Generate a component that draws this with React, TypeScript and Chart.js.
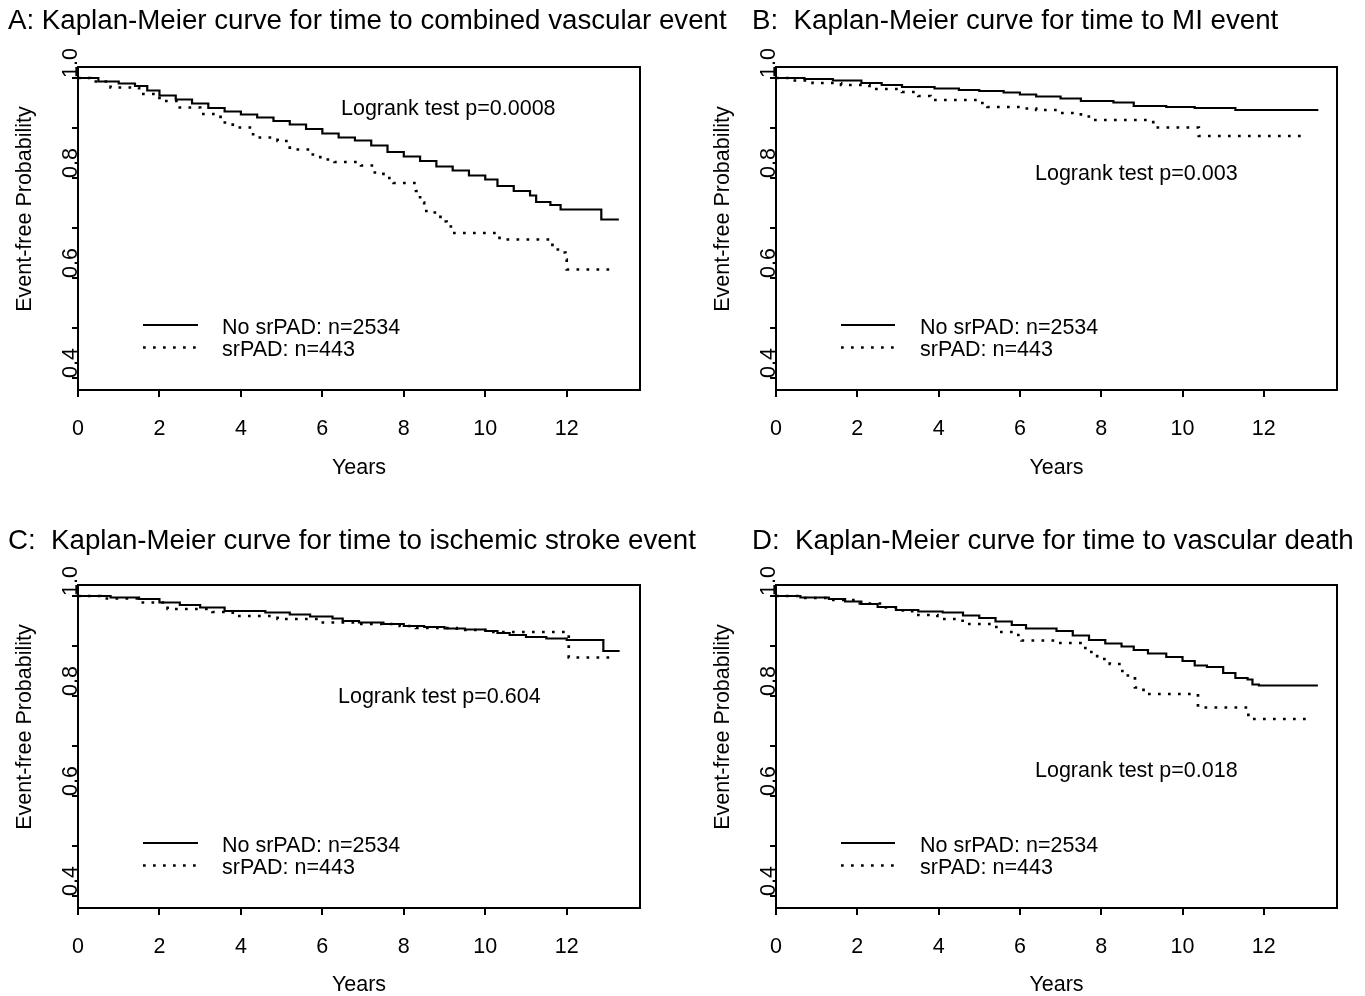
import React, { useEffect, useRef } from 'react';
import { Chart, registerables } from 'chart.js';

Chart.register(...registerables);

const FONT = "'Liberation Sans', Arial, Helvetica, sans-serif";

// ---------- Data ----------
// Panel A: combined vascular event
const aNoTime = [0, 0.5, 1.0, 1.4, 1.7, 2.0, 2.4, 2.8, 3.2, 3.6, 4.0, 4.4, 4.8, 5.2, 5.6, 6.0, 6.4, 6.8, 7.2, 7.6, 8.0, 8.4, 8.8, 9.2, 9.6, 10.0, 10.3, 10.7, 11.1, 11.25, 11.6, 11.85, 12.85, 13.28];
const aNoSurv = [1, 0.993, 0.989, 0.984, 0.975, 0.965, 0.957, 0.949, 0.94, 0.933, 0.927, 0.921, 0.914, 0.907, 0.898, 0.889, 0.881, 0.875, 0.865, 0.852, 0.843, 0.834, 0.823, 0.815, 0.805, 0.797, 0.784, 0.774, 0.765, 0.752, 0.746, 0.737, 0.717, 0.717];
const aPadTime = [0, 0.3, 0.8, 1.5, 2.0, 2.5, 3.0, 3.5, 3.8, 4.3, 4.9, 5.2, 5.7, 5.95, 6.3, 6.95, 7.25, 7.5, 7.75, 8.3, 8.4, 8.5, 8.7, 8.9, 9.05, 9.2, 10.35, 11.65, 11.85, 11.97, 12.0, 13.13];
const aPadSurv = [1, 0.993, 0.981, 0.968, 0.954, 0.941, 0.928, 0.911, 0.901, 0.881, 0.874, 0.857, 0.847, 0.837, 0.832, 0.825, 0.811, 0.8, 0.79, 0.774, 0.751, 0.734, 0.731, 0.713, 0.703, 0.69, 0.677, 0.657, 0.651, 0.637, 0.617, 0.617];

// Panel B: MI event
const bNoTime = [0, 0.7, 1.4, 2.1, 2.6, 3.1, 3.9, 4.5, 5.0, 5.6, 6.0, 6.4, 7.0, 7.5, 8.3, 8.8, 9.6, 10.3, 11.3, 13.34];
const bNoSurv = [1, 0.998, 0.995, 0.99, 0.986, 0.982, 0.979, 0.976, 0.974, 0.971, 0.967, 0.963, 0.959, 0.954, 0.951, 0.944, 0.942, 0.94, 0.936, 0.936];
const bPadTime = [0, 0.4, 0.9, 1.6, 2.3, 3.1, 3.5, 3.8, 5.0, 5.2, 6.0, 6.4, 7.0, 7.5, 7.75, 9.28, 10.4, 13.0];
const bPadSurv = [1, 0.995, 0.99, 0.986, 0.978, 0.972, 0.964, 0.956, 0.95, 0.942, 0.939, 0.936, 0.93, 0.923, 0.916, 0.901, 0.884, 0.884];

// Panel C: ischemic stroke event
const cNoTime = [0, 0.8, 1.5, 2.0, 2.5, 3.0, 3.6, 4.6, 5.2, 5.7, 6.25, 6.5, 6.9, 7.5, 8.0, 8.5, 9.0, 9.5, 10.0, 10.3, 10.6, 11.0, 11.5, 12.0, 12.9, 13.3];
const cNoSurv = [1, 0.997, 0.994, 0.987, 0.982, 0.977, 0.97, 0.967, 0.963, 0.959, 0.955, 0.95, 0.947, 0.944, 0.94, 0.938, 0.935, 0.933, 0.93, 0.926, 0.922, 0.918, 0.915, 0.912, 0.89, 0.89];
const cPadTime = [0, 0.55, 1.5, 2.2, 3.3, 3.8, 4.9, 5.9, 6.9, 7.9, 8.3, 9.3, 10.2, 12.05, 13.15];
const cPadSurv = [1, 0.995, 0.987, 0.974, 0.968, 0.96, 0.954, 0.947, 0.944, 0.94, 0.936, 0.932, 0.928, 0.877, 0.877];

// Panel D: vascular death
const dNoTime = [0, 0.6, 1.3, 1.7, 2.1, 2.5, 2.95, 3.5, 4.1, 4.6, 5.0, 5.4, 5.8, 6.15, 6.9, 7.3, 7.7, 8.1, 8.5, 8.8, 9.15, 9.6, 10.0, 10.3, 10.6, 11.0, 11.3, 11.6, 11.72, 11.88, 13.33];
const dNoSurv = [1, 0.997, 0.994, 0.989, 0.984, 0.978, 0.972, 0.969, 0.967, 0.961, 0.956, 0.949, 0.942, 0.935, 0.93, 0.921, 0.912, 0.905, 0.899, 0.892, 0.885, 0.878, 0.87, 0.861, 0.858, 0.846, 0.836, 0.833, 0.823, 0.821, 0.821];
const dPadTime = [0, 0.6, 1.3, 2.0, 2.6, 3.0, 3.35, 3.97, 4.59, 5.42, 5.83, 6.04, 6.87, 7.49, 7.69, 7.9, 8.21, 8.52, 8.83, 9.04, 10.38, 11.62, 13.12];
const dPadSurv = [1, 0.996, 0.992, 0.985, 0.977, 0.971, 0.962, 0.954, 0.944, 0.928, 0.922, 0.911, 0.906, 0.896, 0.888, 0.874, 0.864, 0.841, 0.817, 0.804, 0.777, 0.754, 0.754];

// Axis ticks and labels
const xTicks = [0, 2, 4, 6, 8, 10, 12];
const yTicks = [0.4, 0.5, 0.6, 0.7, 0.8, 0.9, 1.0];
const yTickLabels = ['0.4', '', '0.6', '', '0.8', '', '1.0'];
const seriesLabels = ['No srPAD: n=2534', 'srPAD: n=443'];
const titles = [
  'A: Kaplan-Meier curve for time to combined vascular event',
  'B:  Kaplan-Meier curve for time to MI event',
  'C:  Kaplan-Meier curve for time to ischemic stroke event',
  'D:  Kaplan-Meier curve for time to vascular death',
];
const logrankTexts = ['Logrank test p=0.0008', 'Logrank test p=0.003', 'Logrank test p=0.604', 'Logrank test p=0.018'];

// ---------- Layout ----------
type Layout = {
  left: number; top: number; w: number; h: number;
  areaLeft: number; areaRight: number; areaTop: number; areaBottom: number;
  titleX: number; titleY: number; yTitleX: number; yTitleY: number;
  logX: number; logY: number;
  legLineX1: number; legLineX2: number; legTextX: number; legY: number[];
  xTitlePad: number;
};

const layouts: Layout[] = [
  { left: 0, top: 0, w: 750, h: 500, areaLeft: 78, areaRight: 640, areaTop: 67, areaBottom: 390,
    titleX: 8, titleY: 21, yTitleX: 25, yTitleY: 209, logX: 341, logY: 109,
    legLineX1: 143, legLineX2: 198, legTextX: 222, legY: [328, 350.5], xTitlePad: 21.25 },
  { left: 683, top: 0, w: 682, h: 500, areaLeft: 93, areaRight: 654, areaTop: 67, areaBottom: 390,
    titleX: 69, titleY: 21, yTitleX: 40, yTitleY: 209, logX: 352, logY: 174,
    legLineX1: 158, legLineX2: 212, legTextX: 237, legY: [328, 350.5], xTitlePad: 21.25 },
  { left: 0, top: 518, w: 750, h: 478, areaLeft: 78, areaRight: 640, areaTop: 67, areaBottom: 390,
    titleX: 8, titleY: 23, yTitleX: 25, yTitleY: 209, logX: 338, logY: 179,
    legLineX1: 143, legLineX2: 198, legTextX: 222, legY: [328, 350.5], xTitlePad: 0.25 },
  { left: 683, top: 518, w: 682, h: 478, areaLeft: 93, areaRight: 654, areaTop: 67, areaBottom: 390,
    titleX: 69, titleY: 23, yTitleX: 40, yTitleY: 209, logX: 352, logY: 253,
    legLineX1: 158, legLineX2: 212, legTextX: 237, legY: [328, 350.5], xTitlePad: 0.25 },
];

const series = [
  [aNoTime, aNoSurv, aPadTime, aPadSurv],
  [bNoTime, bNoSurv, bPadTime, bPadSurv],
  [cNoTime, cNoSurv, cPadTime, cPadSurv],
  [dNoTime, dNoSurv, dPadTime, dPadSurv],
];

const SOLID_W = 2.2;
const DOT_W = 2.7;
const DOT_DASH = [2.7, 7.3];

function Panel({ idx }: { idx: number }) {
  const ref = useRef<HTMLCanvasElement | null>(null);
  const L = layouts[idx];

  useEffect(() => {
    if (!ref.current) return;
    const [nt, ns, pt, ps] = series[idx];
    const decor = {
      id: 'decor' + idx,
      afterDraw(chart: any) {
        const ctx = chart.ctx as CanvasRenderingContext2D;
        const area = chart.chartArea;
        ctx.save();
        ctx.strokeStyle = '#000';
        ctx.lineWidth = 2;
        ctx.setLineDash([]);
        ctx.strokeRect(area.left, area.top, area.right - area.left, area.bottom - area.top);
        ctx.fillStyle = '#000';
        ctx.font = `27.7px ${FONT}`;
        ctx.textAlign = 'left';
        ctx.textBaseline = 'middle';
        ctx.fillText(titles[idx], L.titleX, L.titleY);
        ctx.font = `21.5px ${FONT}`;
        ctx.save();
        ctx.translate(L.yTitleX, L.yTitleY);
        ctx.rotate(-Math.PI / 2);
        ctx.textAlign = 'center';
        ctx.textBaseline = 'middle';
        ctx.fillText('Event-free Probability', 0, 0);
        ctx.restore();
        const ys = chart.scales.y;
        yTicks.forEach((v, i) => {
          const lab = yTickLabels[i];
          if (!lab) return;
          const py = ys.getPixelForValue(v);
          ctx.save();
          ctx.translate(area.left - 1.5, py);
          ctx.rotate(-Math.PI / 2);
          ctx.textAlign = 'left';
          ctx.textBaseline = 'alphabetic';
          ctx.fillText(lab, 0, 0);
          ctx.restore();
        });
        ctx.textAlign = 'left';
        ctx.textBaseline = 'middle';
        ctx.fillText(logrankTexts[idx], L.logX, L.logY);
        chart.data.datasets.forEach((ds: any, i: number) => {
          const y = L.legY[i];
          ctx.beginPath();
          ctx.lineWidth = ds.borderWidth;
          ctx.setLineDash(ds.borderDash || []);
          ctx.lineCap = 'butt';
          ctx.moveTo(L.legLineX1, y - 3);
          ctx.lineTo(L.legLineX2, y - 3);
          ctx.stroke();
          ctx.setLineDash([]);
          ctx.fillText(ds.label, L.legTextX, y);
        });
        ctx.restore();
      },
    };

    const chart = new Chart(ref.current, {
      type: 'line',
      data: {
        datasets: [
          {
            label: seriesLabels[0],
            data: nt.map((t, i) => ({ x: t, y: ns[i] })),
            borderColor: '#000',
            borderWidth: SOLID_W,
            borderDash: [],
            stepped: true,
            pointRadius: 0,
            fill: false,
          },
          {
            label: seriesLabels[1],
            data: pt.map((t, i) => ({ x: t, y: ps[i] })),
            borderColor: '#000',
            borderWidth: DOT_W,
            borderDash: DOT_DASH,
            borderCapStyle: 'butt',
            stepped: true,
            pointRadius: 0,
            fill: false,
          },
        ],
      } as any,
      options: {
        animation: false,
        responsive: false,
        maintainAspectRatio: false,
        devicePixelRatio: 1,
        events: [],
        layout: { padding: { left: 0, top: L.areaTop, right: L.w - L.areaRight, bottom: 0 } },
        plugins: { legend: { display: false }, tooltip: { enabled: false }, title: { display: false } },
        scales: {
          x: {
            type: 'linear',
            min: 0,
            max: 13.8,
            afterBuildTicks: (s: any) => { s.ticks = xTicks.map((v) => ({ value: v })); },
            afterFit: (s: any) => { s.height = L.h - L.areaBottom; },
            grid: { drawOnChartArea: false, drawTicks: true, tickLength: 7, color: '#000', lineWidth: 2 },
            border: { display: false },
            ticks: {
              font: { family: FONT, size: 21.5 },
              color: '#000',
              padding: 19,
              maxRotation: 0,
              minRotation: 0,
              autoSkip: false,
              callback: (v: any) => String(v),
            },
            title: {
              display: true,
              text: 'Years',
              color: '#000',
              font: { family: FONT, size: 21.5, lineHeight: 1 },
              padding: { top: 0, bottom: L.xTitlePad },
            },
          },
          y: {
            type: 'linear',
            min: 0.376,
            max: 1.022,
            afterBuildTicks: (s: any) => { s.ticks = yTicks.map((v) => ({ value: v })); },
            afterFit: (s: any) => { s.width = L.areaLeft; },
            grid: { drawOnChartArea: false, drawTicks: true, tickLength: 6, color: '#000', lineWidth: 2 },
            border: { display: false },
            ticks: { display: false },
          },
        },
      } as any,
      plugins: [decor],
    });
    return () => chart.destroy();
  }, [idx]);

  return (
    <canvas
      ref={ref}
      width={L.w}
      height={L.h}
      style={{ position: 'absolute', left: L.left, top: L.top, width: L.w, height: L.h }}
    />
  );
}

export default function App() {
  return (
    <div style={{ position: 'absolute', left: 0, top: 0, width: 1365, height: 996, overflow: 'hidden', background: '#fff' }}>
      {[0, 1, 2, 3].map((i) => (
        <Panel key={i} idx={i} />
      ))}
    </div>
  );
}
